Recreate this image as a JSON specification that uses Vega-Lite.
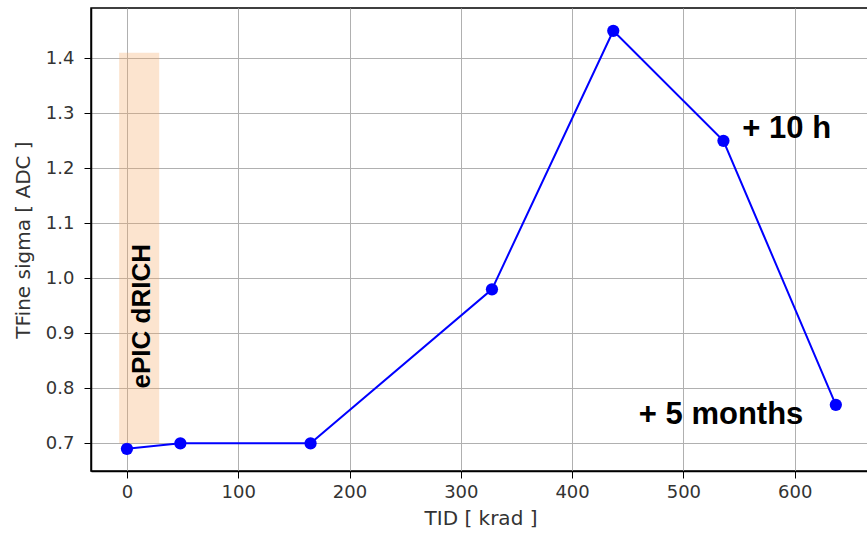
{
  "$schema": "https://vega.github.io/schema/vega-lite/v6.json",
  "autosize": {"type": "none"},
  "padding": {"left": 91, "top": 8, "right": 0, "bottom": 64},
  "width": 779,
  "height": 463,
  "background": "white",
  "config": {
    "view": {"stroke": "black", "strokeWidth": 1.5},
    "axis": {
      "labelFont": "DejaVu Sans",
      "titleFont": "DejaVu Sans",
      "labelFontSize": 18,
      "titleFontSize": 20,
      "titleFontWeight": "normal",
      "labelColor": "#333333",
      "titleColor": "#333333",
      "gridColor": "#b0b0b0",
      "gridWidth": 1,
      "domainColor": "black",
      "domainWidth": 1.5,
      "tickColor": "black",
      "tickSize": 7,
      "tickWidth": 1
    }
  },
  "datasets": {
    "pts": [
      {"tid": 0, "sigma": 0.69},
      {"tid": 48, "sigma": 0.70},
      {"tid": 165, "sigma": 0.70},
      {"tid": 328, "sigma": 0.98},
      {"tid": 437, "sigma": 1.45},
      {"tid": 536, "sigma": 1.25},
      {"tid": 637, "sigma": 0.77}
    ],
    "band": [{"x1": -7, "x2": 29, "y1": 0.70, "y2": 1.41}],
    "labels": [
      {"tid": 553, "sigma": 1.271, "txt": "+ 10 h"},
      {"tid": 460, "sigma": 0.751, "txt": "+ 5 months"}
    ],
    "vlabel": [{"tid": 13.5, "sigma": 0.931, "txt": "ePIC dRICH"}]
  },
  "layer": [
    {
      "data": {"name": "pts"},
      "mark": {"type": "line", "color": "#0000ff", "strokeWidth": 2, "clip": true},
      "encoding": {
        "x": {"field": "tid", "type": "quantitative", "scale": {"domain": [-32.3, 667.7], "nice": false, "zero": false},
          "axis": {"values": [0, 100, 200, 300, 400, 500, 600], "title": "TID [ krad ]", "labelPadding": 5, "titlePadding": 7}},
        "y": {"field": "sigma", "type": "quantitative", "scale": {"domain": [0.6497, 1.4915], "nice": false, "zero": false},
          "axis": {"values": [0.7, 0.8, 0.9, 1.0, 1.1, 1.2, 1.3, 1.4], "format": ".1f", "title": "TFine sigma [ ADC ]", "labelPadding": 10, "titlePadding": 12}}
      }
    },
    {
      "data": {"name": "pts"},
      "mark": {"type": "point", "filled": true, "color": "#0000ff", "opacity": 1, "size": 150},
      "encoding": {
        "x": {"field": "tid", "type": "quantitative"},
        "y": {"field": "sigma", "type": "quantitative"}
      }
    },
    {
      "data": {"name": "band"},
      "mark": {"type": "rect", "color": "#f4a460", "opacity": 0.3},
      "encoding": {
        "x": {"field": "x1", "type": "quantitative"},
        "x2": {"field": "x2"},
        "y": {"field": "y1", "type": "quantitative"},
        "y2": {"field": "y2"}
      }
    },
    {
      "data": {"name": "labels"},
      "mark": {"type": "text", "font": "Liberation Sans", "fontWeight": "bold", "fontSize": 31, "align": "left", "baseline": "middle", "color": "black"},
      "encoding": {
        "x": {"field": "tid", "type": "quantitative"},
        "y": {"field": "sigma", "type": "quantitative"},
        "text": {"field": "txt"}
      }
    },
    {
      "data": {"name": "vlabel"},
      "mark": {"type": "text", "font": "Liberation Sans", "fontWeight": "bold", "fontSize": 26, "angle": 270, "align": "center", "baseline": "middle", "color": "black"},
      "encoding": {
        "x": {"field": "tid", "type": "quantitative"},
        "y": {"field": "sigma", "type": "quantitative"},
        "text": {"field": "txt"}
      }
    }
  ]
}
